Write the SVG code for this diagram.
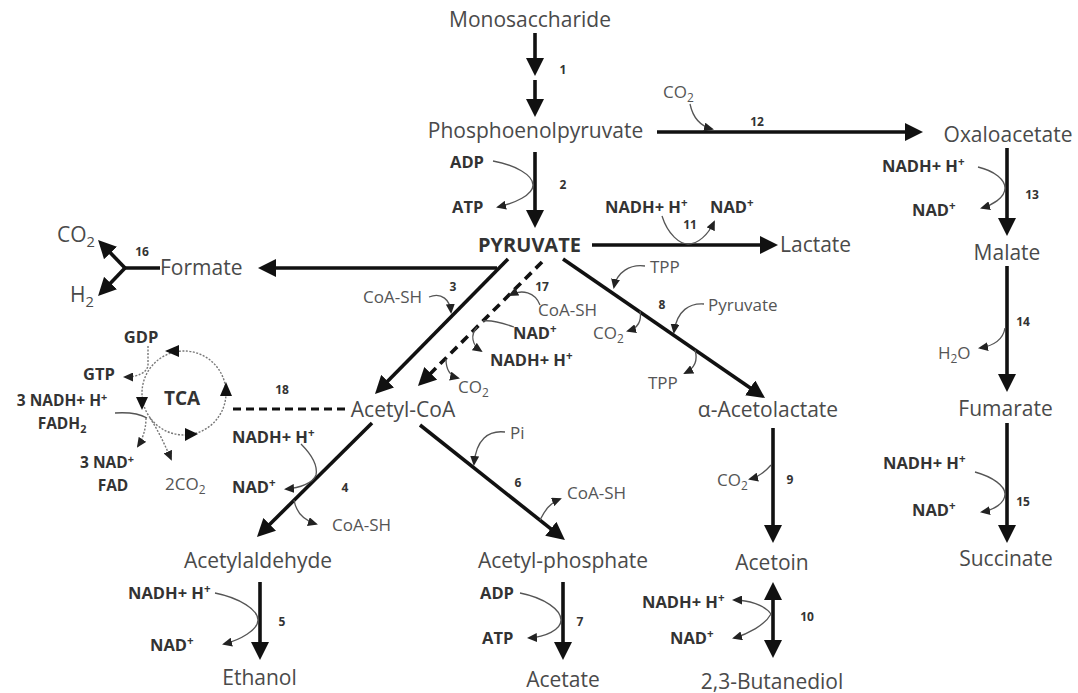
<svg xmlns="http://www.w3.org/2000/svg" width="1078" height="693" viewBox="0 0 1078 693">
<style>
.n{font-family:"Open Sans","Noto Sans",sans-serif;font-size:21px;fill:#4a4a4a}
.nb{font-family:"Open Sans","Noto Sans",sans-serif;font-size:20px;font-weight:bold;fill:#333}
.c{font-family:"Open Sans","Noto Sans",sans-serif;font-size:17px;fill:#555}
.cb{font-family:"Open Sans","Noto Sans",sans-serif;font-size:16.5px;font-weight:bold;fill:#333}
.ct{font-size:15.5px}
.num{font-family:"Open Sans","Noto Sans",sans-serif;font-size:12px;font-weight:bold;fill:#333;text-anchor:middle}
.m{text-anchor:middle}
.sm{font-size:70%}
.main{stroke:#111;stroke-width:3.6;fill:none;marker-end:url(#ah)}
.dash{stroke-dasharray:9 6}
.thin{stroke:#555;stroke-width:1.3;fill:none}
.ta{marker-end:url(#sh)}
.dot{stroke:#777;stroke-width:1.4;fill:none;stroke-dasharray:2 1.5}
</style>
<defs>
<marker id="ah" markerUnits="userSpaceOnUse" markerWidth="18" markerHeight="18" refX="13" refY="9" orient="auto-start-reverse"><path d="M0,0 L18,9 L0,18 z" fill="#111"/></marker>
<marker id="sh" markerUnits="userSpaceOnUse" markerWidth="10" markerHeight="9" refX="8" refY="4.5" orient="auto"><path d="M0,0 L10,4.5 L0,9 z" fill="#222"/></marker>
</defs>
<rect width="1078" height="693" fill="#fff"/>

<g id="connectors">
<line class="main" x1="535" y1="33" x2="535" y2="71"/>
<line class="main" x1="535" y1="80" x2="535" y2="112"/>
<line class="main" x1="535" y1="152" x2="535" y2="223"/>
<line class="main" x1="657" y1="132" x2="918" y2="132"/>
<line class="main" x1="1007" y1="148" x2="1007" y2="231"/>
<line class="main" x1="1007" y1="266" x2="1007" y2="387"/>
<line class="main" x1="1007" y1="423" x2="1007" y2="538"/>
<line class="main" x1="592" y1="245" x2="773" y2="245"/>
<line class="main" x1="497" y1="268" x2="263" y2="268"/>
<line class="main" x1="508" y1="259" x2="378.5" y2="390.4"/>
<line class="main dash" x1="542" y1="262" x2="421.5" y2="382.5"/>
<line class="main" x1="563" y1="259" x2="760.9" y2="395.2"/>
<line class="main" x1="372" y1="423" x2="260.5" y2="533.5"/>
<line class="main" x1="420" y1="425" x2="561" y2="536.9"/>
<line class="main" x1="260" y1="582" x2="260" y2="655"/>
<line class="main" x1="563" y1="582" x2="563" y2="655"/>
<line class="main" x1="773" y1="428" x2="773" y2="538"/>
<line class="main" x1="773" y1="587" x2="773" y2="653" style="marker-start:url(#ah)"/>
<line stroke="#111" stroke-width="3.6" x1="160" y1="268" x2="125" y2="268"/>
<line class="main" x1="125" y1="268" x2="101.5" y2="243.6"/>
<line class="main" x1="125" y1="268" x2="101.5" y2="292.4"/>
<line stroke="#111" stroke-width="3.2" stroke-dasharray="8 5" x1="345" y1="409" x2="230" y2="409"/>
<circle class="dot" cx="184" cy="393" r="42"/>
<polygon points="165,351 179,345 179,357" fill="#111"/>
<polygon points="226,382 220,396 232,396" fill="#111"/>
<polygon points="142,410 136,397 148,397" fill="#111"/>
<polygon points="198,434 185,428 185,441" fill="#111"/>
<path class="dot" d="M148,346 L148,366 C146,373 138,377 125,377" style="marker-end:url(#sh)"/>
<path class="thin" d="M115,413 C130,412 140,414 147,418"/>
<path class="dot" d="M146,418 C146,430 142,440 138,446" style="marker-end:url(#sh)"/>
<path class="dot" d="M150,418 C158,430 165,445 171,459" style="marker-end:url(#sh)"/>
<path class="thin ta" d="M690,104 C693,118 700,126 712,129"/>
<path class="thin ta" d="M493,161 C515,165 533,175 533,185 C533,195 515,203 498,207"/>
<path class="thin ta" d="M662,216 C668,235 680,244 688,244 C698,244 708,235 714,222"/>
<path class="thin ta" d="M978,167 C995,171 1005,180 1005,188 C1005,198 992,205 982,208"/>
<path class="thin ta" d="M1005,328 C1003,340 992,346 980,348"/>
<path class="thin ta" d="M975,472 C993,477 1005,486 1005,494 C1005,503 994,510 982,512"/>
<path class="thin ta" d="M429,297 C442,292 450,300 451,312"/>
<path class="thin ta" d="M540,305 C535,292 522,289 510,295"/>
<path class="thin" d="M514,327 C500,322 490,320 483,321"/>
<path class="thin ta" d="M477,327 C470,335 472,345 481,351"/>
<path class="thin ta" d="M446,359 C446,370 450,376 458,378"/>
<path class="thin ta" d="M645,266 C630,264 617,272 614,287"/>
<path class="thin ta" d="M704,304 C690,303 677,310 674,332"/>
<path class="thin ta" d="M640,311 C642,322 638,328 628,331"/>
<path class="thin ta" d="M695,350 C698,360 695,368 685,373"/>
<path class="thin ta" d="M301,444 C312,455 318,465 316,475 C313,483 300,488 286,489"/>
<path class="thin ta" d="M294,500 C296,512 303,520 316,524"/>
<path class="thin ta" d="M505,432 C488,430 476,440 474,464"/>
<path class="thin ta" d="M540,520 C545,510 550,503 560,499"/>
<path class="thin ta" d="M215,593 C240,598 258,610 258,620 C258,630 240,640 224,644"/>
<path class="thin ta" d="M520,593 C545,598 561,610 561,620 C561,630 545,637 529,638"/>
<path class="thin ta" d="M771,465 C765,472 758,477 750,479"/>
<path class="thin ta" d="M771,614 C765,605 748,600 734,600"/>
<path class="thin ta" d="M771,614 C765,625 748,634 734,638"/>
</g>

<g id="node-monosaccharide"><text class="n m" x="530" y="27">Monosaccharide</text></g>
<g id="node-pep"><text class="n m" x="535.5" y="138">Phosphoenolpyruvate</text></g>
<g id="node-oxaloacetate"><text class="n m" x="1008" y="142">Oxaloacetate</text></g>
<g id="node-pyruvate"><text class="nb m" x="529.5" y="252">PYRUVATE</text></g>
<g id="node-lactate"><text class="n" x="780" y="252">Lactate</text></g>
<g id="node-formate"><text class="n" x="160" y="275">Formate</text></g>
<g id="node-co2-h2">
<text class="n" x="57" y="242">CO<tspan class="sm" dy="5">2</tspan></text>
<text class="n" x="70" y="302">H<tspan class="sm" dy="5">2</tspan></text>
</g>
<g id="node-malate"><text class="n m" x="1007" y="260">Malate</text></g>
<g id="node-acetylcoa"><text class="n m" x="403" y="417">Acetyl-CoA</text></g>
<g id="node-tca"><text class="nb m" x="182" y="405" style="font-size:19px">TCA</text></g>
<g id="node-acetolactate"><text class="n m" x="768" y="417">α-Acetolactate</text></g>
<g id="node-fumarate"><text class="n m" x="1005.5" y="416">Fumarate</text></g>
<g id="node-acetylaldehyde"><text class="n m" x="258" y="568">Acetylaldehyde</text></g>
<g id="node-acetylphosphate"><text class="n m" x="563" y="568">Acetyl-phosphate</text></g>
<g id="node-acetoin"><text class="n m" x="772" y="570">Acetoin</text></g>
<g id="node-succinate"><text class="n m" x="1006" y="566">Succinate</text></g>
<g id="node-ethanol"><text class="n m" x="259.5" y="685">Ethanol</text></g>
<g id="node-acetate"><text class="n m" x="563" y="687">Acetate</text></g>
<g id="node-butanediol"><text class="n m" x="772" y="689">2,3-Butanediol</text></g>

<g id="cofactors">
<text class="c" x="663" y="98">CO<tspan class="sm" dy="4">2</tspan></text>
<text class="cb" x="450" y="168">ADP</text>
<text class="cb" x="452" y="213">ATP</text>
<text class="cb" x="605" y="213">NADH+ H<tspan class="sm" dy="-6">+</tspan></text>
<text class="cb" x="710" y="213">NAD<tspan class="sm" dy="-6">+</tspan></text>
<text class="cb" x="882" y="172">NADH+ H<tspan class="sm" dy="-6">+</tspan></text>
<text class="cb" x="912" y="216">NAD<tspan class="sm" dy="-6">+</tspan></text>
<text class="c" x="938" y="359">H<tspan class="sm" dy="4">2</tspan><tspan dy="-4">O</tspan></text>
<text class="cb" x="883" y="469">NADH+ H<tspan class="sm" dy="-6">+</tspan></text>
<text class="cb" x="912" y="516">NAD<tspan class="sm" dy="-6">+</tspan></text>
<text class="c" x="363" y="303">CoA-SH</text>
<text class="c" x="538" y="316">CoA-SH</text>
<text class="cb" x="513" y="339">NAD<tspan class="sm" dy="-6">+</tspan></text>
<text class="cb" x="490" y="366">NADH+ H<tspan class="sm" dy="-6">+</tspan></text>
<text class="c" x="458" y="393">CO<tspan class="sm" dy="4">2</tspan></text>
<text class="c" x="650" y="273">TPP</text>
<text class="c" x="708" y="311">Pyruvate</text>
<text class="c" x="593" y="339">CO<tspan class="sm" dy="4">2</tspan></text>
<text class="c" x="648" y="389">TPP</text>
<text class="c" x="717" y="486">CO<tspan class="sm" dy="4">2</tspan></text>
<text class="cb" x="642" y="608">NADH+ H<tspan class="sm" dy="-6">+</tspan></text>
<text class="cb" x="670" y="644">NAD<tspan class="sm" dy="-6">+</tspan></text>
<text class="cb" x="232" y="443">NADH+ H<tspan class="sm" dy="-6">+</tspan></text>
<text class="cb" x="232" y="493">NAD<tspan class="sm" dy="-6">+</tspan></text>
<text class="c" x="332" y="531">CoA-SH</text>
<text class="c" x="510" y="439">Pi</text>
<text class="c" x="567" y="499">CoA-SH</text>
<text class="cb" x="128" y="599">NADH+ H<tspan class="sm" dy="-6">+</tspan></text>
<text class="cb" x="150" y="651">NAD<tspan class="sm" dy="-6">+</tspan></text>
<text class="cb" x="480" y="599">ADP</text>
<text class="cb" x="482" y="644">ATP</text>
<text class="cb m" x="141" y="343">GDP</text>
<text class="cb" x="83" y="380">GTP</text>
<text class="cb ct m" x="62" y="406">3 NADH+ H<tspan class="sm" dy="-5">+</tspan></text>
<text class="cb ct m" x="62" y="429">FADH<tspan class="sm" dy="4">2</tspan></text>
<text class="cb ct m" x="107" y="468">3 NAD<tspan class="sm" dy="-5">+</tspan></text>
<text class="cb ct m" x="113" y="491">FAD</text>
<text class="c" x="165" y="490">2CO<tspan class="sm" dy="4">2</tspan></text>
</g>

<g id="step-numbers">
<text class="num" x="563" y="74">1</text>
<text class="num" x="563" y="189">2</text>
<text class="num" x="453" y="291">3</text>
<text class="num" x="345" y="492">4</text>
<text class="num" x="282" y="626">5</text>
<text class="num" x="518" y="487">6</text>
<text class="num" x="580" y="626">7</text>
<text class="num" x="662" y="309">8</text>
<text class="num" x="790" y="484">9</text>
<text class="num" x="807" y="621">10</text>
<text class="num" x="690" y="229">11</text>
<text class="num" x="757" y="126">12</text>
<text class="num" x="1032" y="199">13</text>
<text class="num" x="1023" y="326">14</text>
<text class="num" x="1023" y="506">15</text>
<text class="num" x="142" y="256">16</text>
<text class="num" x="542" y="291">17</text>
<text class="num" x="282" y="394">18</text>
</g>
</svg>
